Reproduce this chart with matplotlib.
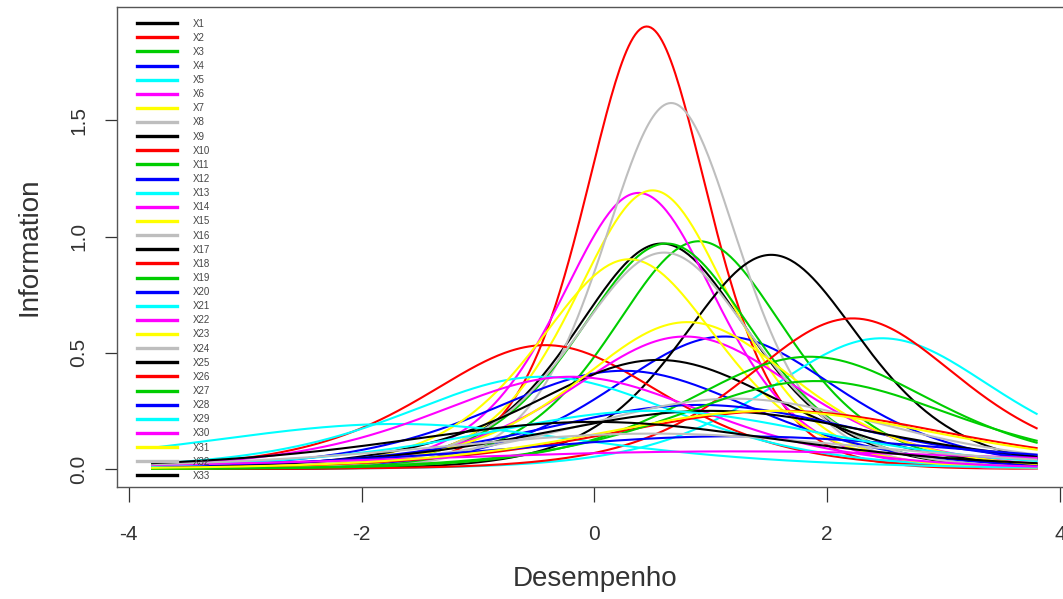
import numpy as np
import matplotlib
matplotlib.use("Agg")
import matplotlib.pyplot as plt

plt.rcParams['font.family'] = ['Liberation Sans', 'DejaVu Sans']

# item labels and R-style colour cycle
items = ["X%d" % i for i in range(1, 34)]
palette = ["black", "red", "#00CD00", "blue", "cyan", "magenta", "yellow", "#BEBEBE"]

# 2PL item parameters (peak = a^2/4 at theta = b)
a_par = [1.97, 2.76, 1.98, 1.51, 1.50, 2.18, 2.19, 2.51,
         1.92, 1.46, 1.97, 1.30, 1.26, 1.51, 1.90, 1.93,
         1.37, 1.61, 1.39, 1.05, 0.88, 1.26, 1.59, 1.10,
         1.00, 1.00, 1.23, 0.75, 1.00, 0.55, 1.00, 0.78,
         0.90]
b_par = [0.58, 0.45, 0.90, 1.12, 2.47, 0.38, 0.50, 0.66,
         1.52, -0.42, 0.62, 0.25, -0.45, 0.78, 0.30, 0.60,
         0.55, 2.22, 1.85, 0.90, -1.70, -0.20, 0.80, 1.20,
         1.00, 1.60, 1.90, 1.20, 0.50, 1.20, 1.50, 0.50,
         0.00]

xticks = [-4, -2, 0, 2, 4]
yticks = [0.0, 0.5, 1.0, 1.5]

theta = np.linspace(-3.8, 3.8, 400)

fig = plt.figure(figsize=(10.63, 5.99), dpi=100)
ax = fig.add_axes([116.7 / 1063, 1 - 486.7 / 599, (1072 - 116.7) / 1063, (486.7 - 7.3) / 599])

for i, name in enumerate(items):
    a, b = a_par[i], b_par[i]
    p = 1.0 / (1.0 + np.exp(-a * (theta - b)))
    info = a ** 2 * p * (1 - p)
    ax.plot(theta, info, color=palette[i % 8], lw=1.5, label=name)

ax.set_xlim(-4.104, 4.104)
ax.set_ylim(-0.0764, 1.987)
ax.set_xticks(xticks)
ax.set_xticklabels([str(v) for v in xticks])
ax.set_yticks(yticks)
ax.set_yticklabels(["%.1f" % v for v in yticks], rotation=90, va='center')
ax.tick_params(axis='x', length=10.5, width=0.9, pad=17, labelsize=15, colors='#333333')
ax.tick_params(axis='y', length=8.5, width=0.9, pad=12, labelsize=15, colors='#333333')
for s in ax.spines.values():
    s.set_color('#555555')
    s.set_linewidth(1.0)

ax.set_xlabel("Desempenho", fontsize=20, color='#333333')
ax.set_ylabel("Information", fontsize=20, color='#333333')
ax.xaxis.set_label_coords((595.1 - 116.7) / 955.3, -0.165)
ax.yaxis.set_label_coords(-0.078, 0.5)

leg = ax.legend(loc='upper left', bbox_to_anchor=(0.021, 0.9765), frameon=False,
                fontsize=7, handlelength=4.1, handletextpad=1.65,
                labelspacing=0.425, borderaxespad=0, borderpad=0)
for h in leg.get_lines():
    h.set_linewidth(2.4)
for t in leg.get_texts():
    t.set_color('#444444')

fig.savefig("out.png", dpi=100)
